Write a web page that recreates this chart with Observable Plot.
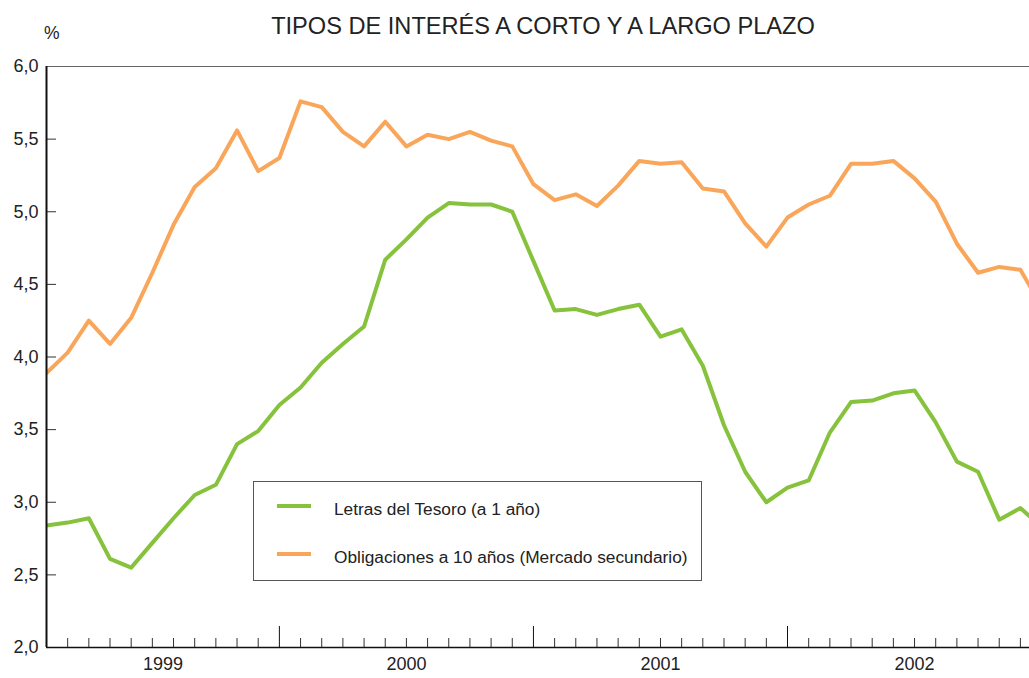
<!DOCTYPE html>
<html>
<head>
<meta charset="utf-8">
<script src="https://cdn.jsdelivr.net/npm/d3@7"></script>
<script src="https://cdn.jsdelivr.net/npm/@observablehq/plot@0.6"></script>
<style>
  body { margin: 0; background: #fff; font-family: "Liberation Sans", Arial, Helvetica, sans-serif; color: #222; }
  #wrap { position: relative; width: 1029px; height: 678px; overflow: hidden; background: #fff; }
  #title { position: absolute; left: 46px; width: 994px; top: 12px; text-align: center; font-size: 23.6px; line-height: 28px; color: #222; white-space: nowrap; }
  #unit { position: absolute; left: 44px; top: 23px; font-size: 17.5px; line-height: 20px; color: #222; }
  #chart { position: absolute; left: 0; top: 0; }
  #legend { position: absolute; left: 253px; top: 481px; width: 447px; height: 98px; border: 1px solid #555; background: #fff; }
  .sw { position: absolute; left: 23px; width: 34px; height: 4px; }
  .lt { position: absolute; left: 80px; font-size: 17.3px; line-height: 20px; color: #222; white-space: nowrap; }
</style>
</head>
<body>
<div id="wrap">
  <div id="chart"></div>
  <div id="title"></div>
  <div id="unit"></div>
  <div id="legend"></div>
</div>
<script>
// ---- data ----
const title = "TIPOS DE INTERÉS A CORTO Y A LARGO PLAZO";
const unit = "%";
const years = ["1999", "2000", "2001", "2002"];
const monthNames = ["ene", "feb", "mar", "abr", "may", "jun", "jul", "ago", "sep", "oct", "nov", "dic"];
const seriesNames = ["Letras del Tesoro (a 1 año)", "Obligaciones a 10 años (Mercado secundario)"];
const seriesColors = ["#86c23c", "#f9a65a"];
const letras = [2.84, 2.86, 2.89, 2.61, 2.55, 2.72, 2.89, 3.05, 3.12, 3.40, 3.49, 3.67,
                3.79, 3.96, 4.09, 4.21, 4.67, 4.81, 4.96, 5.06, 5.05, 5.05, 5.00, 4.66,
                4.32, 4.33, 4.29, 4.33, 4.36, 4.14, 4.19, 3.94, 3.53, 3.21, 3.00, 3.10,
                3.15, 3.48, 3.69, 3.70, 3.75, 3.77, 3.55, 3.28, 3.21, 2.88, 2.96, 2.83];
const obligaciones = [3.89, 4.03, 4.25, 4.09, 4.27, 4.58, 4.91, 5.17, 5.30, 5.56, 5.28, 5.37,
                      5.76, 5.72, 5.55, 5.45, 5.62, 5.45, 5.53, 5.50, 5.55, 5.49, 5.45, 5.19,
                      5.08, 5.12, 5.04, 5.18, 5.35, 5.33, 5.34, 5.16, 5.14, 4.92, 4.76, 4.96,
                      5.05, 5.11, 5.33, 5.33, 5.35, 5.23, 5.07, 4.78, 4.58, 4.62, 4.60, 4.35];
const yTicks = [2.0, 2.5, 3.0, 3.5, 4.0, 4.5, 5.0, 5.5, 6.0];

// ---- derived tables ----
const months = years.flatMap(y => monthNames.map(m => `${m} ${y}`));
const rows = [];
[letras, obligaciones].forEach((vals, s) => vals.forEach((v, i) => rows.push({i, month: months[i], series: seriesNames[s], value: v})));
const xMax = 46.43; // visible portion of the month axis
const yearEnds = years.map((y, k) => 12 * k + 11);               // month index where each year closes
const majorTicks = yearEnds.filter(e => e <= xMax);
const minorTicks = months.map((m, i) => i).filter(i => i > 0 && i <= xMax && !yearEnds.includes(i));
const yearLabels = years.map((y, k) => ({year: y, x: (Math.max(0, 12 * k - 1) + 12 * k + 11) / 2}));
const fmt = d => d.toFixed(1).replace(".", ",");

const chart = Plot.plot({
  width: 1029,
  height: 678,
  marginTop: 66,
  marginBottom: 31,
  marginLeft: 46,
  marginRight: 0,
  style: {fontFamily: '"Liberation Sans", Arial, Helvetica, sans-serif', background: "transparent", color: "#222"},
  x: {type: "linear", domain: [0, xMax]},
  y: {domain: [2, 6]},
  color: {domain: seriesNames, range: seriesColors},
  marks: [
    Plot.ruleY([6], {stroke: "#666", strokeWidth: 1}),
    Plot.line(rows, {x: "i", y: "value", z: "series", stroke: "series", strokeWidth: 4, clip: true}),
    Plot.axisY({ticks: yTicks.filter(t => t > 2 && t < 6), tickSize: -10, fill: "none", stroke: "#333", label: null}),
    Plot.axisY({ticks: yTicks, tickSize: 0, tickPadding: 8, tickFormat: fmt, fontSize: 18, fill: "#222", label: null}),
    Plot.axisX({ticks: minorTicks, tickSize: -9, fill: "none", stroke: "#333", label: null}),
    Plot.axisX({ticks: majorTicks, tickSize: -21, fill: "none", stroke: "#111", label: null}),
    Plot.text(yearLabels, {x: "x", text: "year", frameAnchor: "bottom", dy: 22, fontSize: 18, fill: "#222"}),
    Plot.ruleX([0], {stroke: "#111", strokeWidth: 2}),
    Plot.ruleY([2], {stroke: "#111", strokeWidth: 1.5})
  ]
});
document.getElementById("chart").appendChild(chart);
document.getElementById("title").textContent = title;
document.getElementById("unit").textContent = unit;

const legend = document.getElementById("legend");
const rowTops = [24, 72];
seriesNames.forEach((name, s) => {
  const sw = document.createElement("div");
  sw.className = "sw";
  sw.style.background = seriesColors[s];
  sw.style.top = (rowTops[s] - 2) + "px";
  legend.appendChild(sw);
  const t = document.createElement("div");
  t.className = "lt";
  t.style.top = (rowTops[s] - 7) + "px";
  t.textContent = name;
  legend.appendChild(t);
});
</script>
</body>
</html>
